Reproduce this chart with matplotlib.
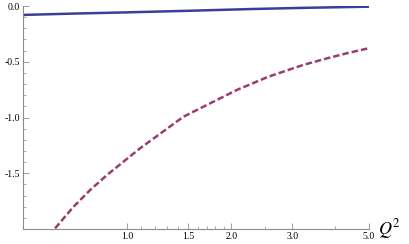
import numpy as np
import matplotlib
matplotlib.use('Agg')
import matplotlib.pyplot as plt
from matplotlib.ticker import FixedLocator, NullFormatter

# values
q2_solid = [0.5, 0.7, 1.0, 1.5, 2.3, 3.3, 5.0]
f_solid = [-0.080, -0.068, -0.057, -0.043, -0.027, -0.016, -0.006]

q2_dash = [0.619, 0.700, 0.782, 0.874, 0.976, 1.090, 1.231, 1.454, 1.737,
           2.075, 2.560, 3.232, 3.775, 4.313, 5.0]
f_dash = [-1.994, -1.800, -1.650, -1.516, -1.396, -1.276, -1.157, -0.993, -0.873,
          -0.753, -0.634, -0.528, -0.470, -0.424, -0.378]

xticks = [1.0, 1.5, 2.0, 3.0, 5.0]
xminor = [1.1, 1.2, 1.3, 1.4, 1.6, 1.7, 1.8, 1.9, 2.5, 4.0]
yticks = [0.0, -0.5, -1.0, -1.5]

grey = '#8c8c8c'
plt.rcParams['font.family'] = ['Liberation Serif', 'DejaVu Serif']
plt.rcParams['mathtext.fontset'] = 'stix'

fig = plt.figure(figsize=(4.09, 2.44), dpi=100)
ax = fig.add_axes([23/409, 15/244, (369-23)/409, (229-6)/244])

ax.plot(q2_solid, f_solid, color='#3d3d99', lw=1.8, solid_capstyle='butt')
ax.plot(q2_dash, f_dash, color='#993d71', lw=1.8, dashes=(2.6, 1.2))

ax.set_xscale('log')
ax.set_xlim(0.5, 5.0)
ax.set_ylim(-2.0, 0.0)

ax.xaxis.set_major_locator(FixedLocator(xticks))
ax.xaxis.set_minor_locator(FixedLocator(xminor))
ax.set_xticklabels([f'{v:.1f}' for v in xticks])
ax.xaxis.set_minor_formatter(NullFormatter())
ax.yaxis.set_major_locator(FixedLocator(yticks))
ax.yaxis.set_minor_locator(FixedLocator(np.arange(-1.9, 0, 0.1)))
ax.set_yticklabels([f'{v:.1f}' for v in yticks])

for s in ['top', 'right']:
    ax.spines[s].set_visible(False)
for s in ['left', 'bottom']:
    ax.spines[s].set_color(grey)
    ax.spines[s].set_linewidth(0.8)

ax.tick_params(which='major', direction='in', length=4, width=0.6, color=grey,
               labelsize=7, pad=2)
ax.tick_params(which='minor', direction='in', length=2, width=0.5, color=grey)

ax.text(1.025, 0.0, r'$Q^2$', transform=ax.transAxes, fontsize=13,
        ha='left', va='center')

fig.savefig('out.png', dpi=100)
